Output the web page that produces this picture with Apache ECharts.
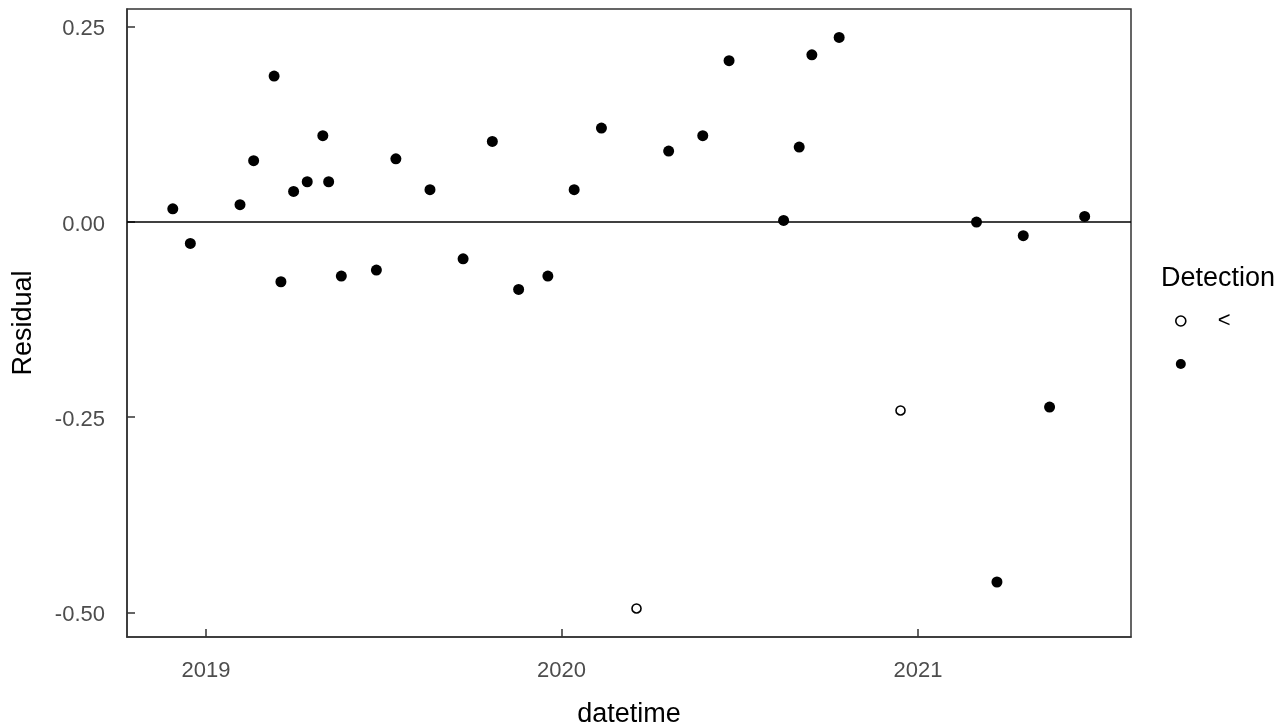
<!DOCTYPE html>
<html>
<head>
<meta charset="utf-8">
<script src="https://cdn.jsdelivr.net/npm/echarts@6/dist/echarts.min.js"></script>
<style>html,body{margin:0;padding:0;background:#fff}#c{width:1282px;height:728px}</style>
</head>
<body>
<div id="c"></div>
<script>
// Detection "<" (non-detect, open circles)
const ndDates = ['2020-03-18', '2020-12-14'];
const ndValues = [-0.495, -0.2415];
// Detected (filled circles)
const detDates = ['2018-11-28','2018-12-16','2019-02-05','2019-02-19','2019-03-12','2019-03-19','2019-04-01','2019-04-15','2019-05-01','2019-05-07','2019-05-20','2019-06-25','2019-07-15','2019-08-19','2019-09-22','2019-10-22','2019-11-18','2019-12-18','2020-01-14','2020-02-11','2020-04-20','2020-05-25','2020-06-21','2020-08-16','2020-09-01','2020-09-14','2020-10-12','2021-03-02','2021-03-23','2021-04-19','2021-05-16','2021-06-21'];
const detValues = [0.0166,-0.0278,0.0218,0.0781,0.1865,-0.0768,0.0388,0.0512,0.1101,0.0512,-0.0695,-0.0618,0.0806,0.0410,-0.0474,0.1028,-0.0867,-0.0695,0.0410,0.1199,0.0905,0.1101,0.2061,0.0017,0.0956,0.2137,0.2359,-0.0004,-0.4611,-0.0179,-0.2372,0.0068];
const yTicks = [-0.5, -0.25, 0, 0.25];
const xTickDates = ['2019-01-01', '2020-01-01', '2021-01-01'];
const xMinDate = '2018-10-12', xMaxDate = '2021-08-07T14:00';
const yMin = -0.5315, yMax = 0.2723;

const t = s => new Date(s.length > 10 ? s : s + 'T00:00:00').getTime();
const FONT = '"Liberation Sans", Arial, sans-serif';
const chart = echarts.init(document.getElementById('c'), null, {renderer: 'canvas'});
chart.setOption({
  animation: false,
  backgroundColor: '#fff',
  grid: {left: 127, right: 151, top: 9, bottom: 91, containLabel: false, outerBoundsMode: 'none', show: true, borderColor: '#333', borderWidth: 1.5, backgroundColor: 'transparent'},
  title: {text: 'Detection', left: 1156, top: 260, textStyle: {fontFamily: FONT, fontSize: 27, fontWeight: 'normal', color: '#000'}},
  legend: {
    orient: 'vertical', left: 1170, top: 305, itemWidth: 10, itemHeight: 10, itemGap: 21,
    textStyle: {fontFamily: FONT, fontSize: 22, color: '#000', padding: [0, 0, 0, 27]},
    data: [{name: '<', icon: 'circle', itemStyle: {color: '#fff', borderColor: '#000', borderWidth: 1.6}}, {name: ' ', icon: 'circle', itemStyle: {color: '#000'}}]
  },
  xAxis: {
    type: 'value', min: t(xMinDate), max: t(xMaxDate),
    name: 'datetime', nameLocation: 'middle', nameGap: 64,
    nameTextStyle: {fontFamily: FONT, fontSize: 27, color: '#000'},
    axisLine: {show: true, onZero: false, lineStyle: {color: '#333', width: 1.5}},
    axisTick: {show: true, inside: true, length: 8, lineStyle: {color: '#333', width: 1.5}, customValues: xTickDates.map(t)},
    axisLabel: {fontFamily: FONT, fontSize: 22, color: '#4D4D4D', margin: 23, customValues: xTickDates.map(t), formatter: v => String(new Date(v).getFullYear())},
    splitLine: {show: false}
  },
  yAxis: {
    type: 'value', min: yMin, max: yMax,
    name: 'Residual', nameLocation: 'middle', nameGap: 90,
    nameTextStyle: {fontFamily: FONT, fontSize: 27, color: '#000'},
    axisLine: {show: true, onZero: false, lineStyle: {color: '#333', width: 1.5}},
    axisTick: {show: true, inside: true, length: 8, lineStyle: {color: '#333', width: 1.5}, customValues: yTicks},
    axisLabel: {
      fontFamily: FONT, fontSize: 22, color: '#4D4D4D', margin: 22, customValues: yTicks,
      formatter: v => '{a|' + v.toFixed(2) + '}',
      rich: {a: {fontFamily: FONT, fontSize: 22, color: '#4D4D4D', padding: [6, 0, 0, 0]}}
    },
    splitLine: {show: false}
  },
  series: [
    {
      name: '<', type: 'scatter', symbol: 'circle', symbolSize: 9,
      itemStyle: {color: '#fff', borderColor: '#000', borderWidth: 1.6, opacity: 1},
      data: ndDates.map((d, i) => [t(d), ndValues[i]]),
      markLine: {silent: true, symbol: 'none', label: {show: false}, lineStyle: {color: '#000', width: 1.5, type: 'solid'}, data: [{yAxis: 0}]},
      z: 3
    },
    {
      name: ' ', type: 'scatter', symbol: 'circle', symbolSize: 11,
      itemStyle: {color: '#000', opacity: 1},
      data: detDates.map((d, i) => [t(d), detValues[i]]),
      z: 3
    }
  ]
});
</script>
</body>
</html>
